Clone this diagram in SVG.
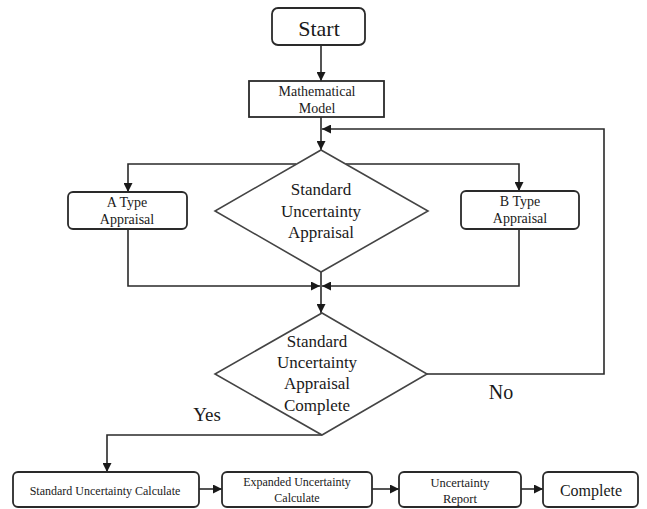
<svg xmlns="http://www.w3.org/2000/svg" width="647" height="509" viewBox="0 0 647 509">
<style>
.box{fill:#fff;stroke:#2a2a2a;stroke-width:1.8}
.dia{fill:#fff;stroke:#444;stroke-width:1.6}
.ln{fill:none;stroke:#2a2a2a;stroke-width:1.6}
text{font-family:"Liberation Serif","Times New Roman",serif;fill:#1a1a1a;text-anchor:middle}
</style>
<defs>
<marker id="ah" markerUnits="userSpaceOnUse" markerWidth="10" markerHeight="9" refX="9" refY="4.5" orient="auto">
<path d="M0,0 L9,4.5 L0,9 z" fill="#1a1a1a"/>
</marker>
</defs>
<rect width="647" height="509" fill="#fff"/>
<g id="connectors">
<path class="ln" d="M321,45 V81" marker-end="url(#ah)"/>
<path class="ln" d="M321,117 V150" marker-end="url(#ah)"/>
<path class="ln" d="M427,374 H604 V129 H322" marker-end="url(#ah)"/>
<path class="ln" d="M296,164 H128 V192" marker-end="url(#ah)"/>
<path class="ln" d="M346,164 H519 V191" marker-end="url(#ah)"/>
<path class="ln" d="M128,229 V286 H320" marker-end="url(#ah)"/>
<path class="ln" d="M519,229 V286 H322" marker-end="url(#ah)"/>
<path class="ln" d="M321,272 V313" marker-end="url(#ah)"/>
<path class="ln" d="M322,435 H107 V472" marker-end="url(#ah)"/>
<path class="ln" d="M199,489 H222" marker-end="url(#ah)"/>
<path class="ln" d="M372,489 H399" marker-end="url(#ah)"/>
<path class="ln" d="M521,489 H543" marker-end="url(#ah)"/>
<text x="207" y="421" font-size="19">Yes</text>
<text x="501" y="399" font-size="20">No</text>
</g>
<g id="start">
<rect class="box" x="272" y="8" width="93" height="37" rx="6"/>
<text x="319" y="36" font-size="22">Start</text>
</g>
<g id="model">
<rect class="box" x="249" y="81" width="135" height="36"/>
<text x="317" y="96" font-size="14">Mathematical</text>
<text x="317" y="113" font-size="14">Model</text>
</g>
<g id="appraisal">
<path class="dia" d="M321,150 L428,211 L321,272 L215,211 Z"/>
<text x="321" y="195" font-size="17">Standard</text>
<text x="321" y="217" font-size="17">Uncertainty</text>
<text x="321" y="238" font-size="17">Appraisal</text>
</g>
<g id="atype">
<rect class="box" x="68" y="192" width="119" height="37" rx="5"/>
<text x="127" y="207" font-size="14">A Type</text>
<text x="127" y="224" font-size="14">Appraisal</text>
</g>
<g id="btype">
<rect class="box" x="461" y="191" width="118" height="38" rx="5"/>
<text x="520" y="206" font-size="14">B Type</text>
<text x="520" y="223" font-size="14">Appraisal</text>
</g>
<g id="complete-check">
<path class="dia" d="M322,313 L427,374 L322,435 L215,374 Z"/>
<text x="317" y="347" font-size="17">Standard</text>
<text x="317" y="368" font-size="17">Uncertainty</text>
<text x="317" y="389" font-size="17">Appraisal</text>
<text x="317" y="411" font-size="17">Complete</text>
</g>
<g id="std-calc">
<rect class="box" x="13" y="472" width="186" height="35" rx="5"/>
<text x="105" y="495" font-size="12">Standard Uncertainty Calculate</text>
</g>
<g id="exp-calc">
<rect class="box" x="222" y="472" width="150" height="35" rx="5"/>
<text x="297" y="486" font-size="12">Expanded Uncertainty</text>
<text x="297" y="502" font-size="12">Calculate</text>
</g>
<g id="report">
<rect class="box" x="399" y="472" width="122" height="35" rx="5"/>
<text x="460" y="487" font-size="12.5">Uncertainty</text>
<text x="460" y="503" font-size="12.5">Report</text>
</g>
<g id="complete">
<rect class="box" x="543" y="472" width="95" height="35" rx="5"/>
<text x="591" y="496" font-size="16">Complete</text>
</g>
</svg>
